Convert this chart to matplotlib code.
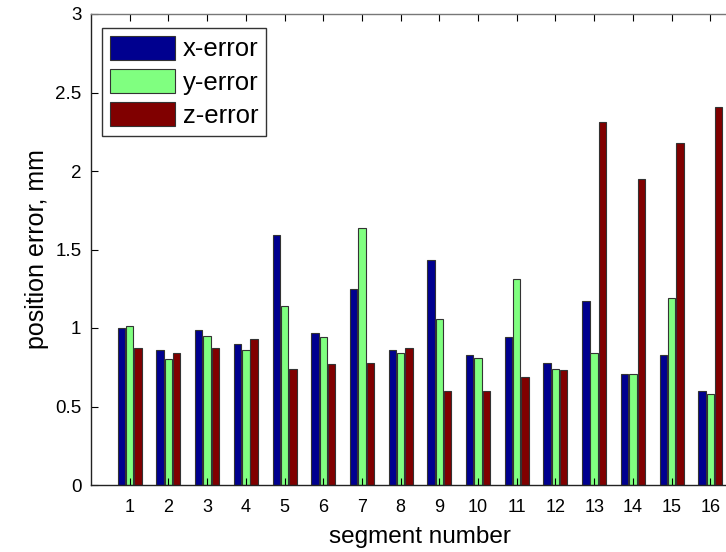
import matplotlib
matplotlib.use("Agg")
import matplotlib.pyplot as plt
import numpy as np

segments = list(range(1, 17))
x_error = [1.00, 0.86, 0.99, 0.90, 1.59, 0.97, 1.25, 0.86, 1.43, 0.83, 0.94, 0.78, 1.17, 0.71, 0.83, 0.60]
y_error = [1.01, 0.80, 0.95, 0.86, 1.14, 0.94, 1.64, 0.84, 1.06, 0.81, 1.31, 0.74, 0.84, 0.71, 1.19, 0.58]
z_error = [0.87, 0.84, 0.87, 0.93, 0.74, 0.77, 0.78, 0.87, 0.60, 0.60, 0.69, 0.73, 2.31, 1.95, 2.18, 2.41]
series_names = ["x-error", "y-error", "z-error"]
colors = ["#00008F", "#80FF80", "#800000"]
yticks = [0, 0.5, 1, 1.5, 2, 2.5, 3]
ytick_labels = ["0", "0.5", "1", "1.5", "2", "2.5", "3"]

plt.rcParams['font.family'] = ['Liberation Sans', 'DejaVu Sans']

W, H = 726, 552
fig = plt.figure(figsize=(W / 100, H / 100), dpi=100)
ax = fig.add_axes([91 / W, 1 - 485 / H, (749 - 91) / W, (485 - 14) / H])

x = np.array(segments, dtype=float)
offs = [-0.215, 0.0, 0.215]
bw = 0.19
for vals, name, c, o in zip([x_error, y_error, z_error], series_names, colors, offs):
    ax.bar(x + o, vals, width=bw, color=c, edgecolor="#333333", linewidth=0.8, label=name)

ax.set_xlim(0, 17)
ax.set_ylim(0, 3)
ax.set_xticks(segments)
ax.set_xticklabels([str(s) for s in segments], fontsize=13)
ax.set_yticks(yticks)
ax.set_yticklabels(ytick_labels, fontsize=13.5)
ax.tick_params(direction="in", top=True, right=True, length=5, width=0.8)
ax.tick_params(axis="x", pad=10)
ax.tick_params(axis="y", pad=7)
for s in ax.spines.values():
    s.set_linewidth(1.0)
    s.set_color("#222222")
ax.spines['top'].set_color("#777777")

ax.set_xlabel("segment number", fontsize=17.5, labelpad=7)
ax.set_ylabel("position error, mm", fontsize=18, labelpad=4)

leg = ax.legend(loc="upper left", bbox_to_anchor=(102 / W, 1 - 28 / H), bbox_transform=fig.transFigure,
                fontsize=18.5, frameon=True, fancybox=False, edgecolor="black",
                handlelength=2.55, handleheight=1.05, handletextpad=0.3, borderpad=0.3,
                labelspacing=0.3, borderaxespad=0)
leg.get_frame().set_linewidth(1.0)

fig.savefig("out.png", dpi=100)
